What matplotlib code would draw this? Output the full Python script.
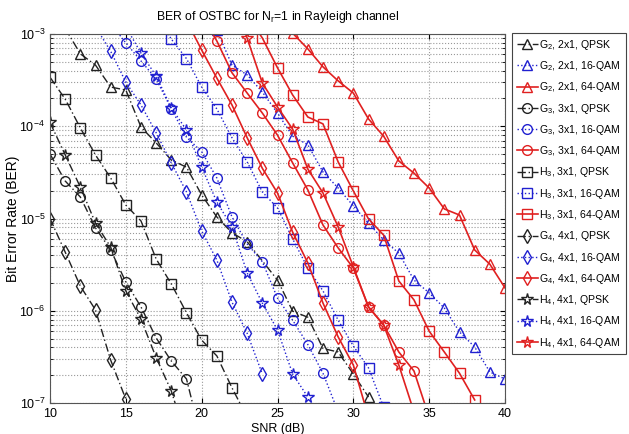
import numpy as np
import matplotlib
matplotlib.use("Agg")
import matplotlib.pyplot as plt

plt.rcParams['font.family'] = ['Liberation Sans', 'DejaVu Sans']
plt.rcParams['mathtext.fontset'] = 'custom'
plt.rcParams['mathtext.rm'] = 'Liberation Sans'
plt.rcParams['mathtext.it'] = 'Liberation Sans:italic'
plt.rcParams['mathtext.default'] = 'regular'

# ---------------- data ----------------
g2_qpsk_snr = [11, 12, 13, 14, 15, 16, 17, 18, 19, 20, 21, 22, 23, 25, 26, 27, 28, 29, 30, 31]
g2_qpsk_ber = [1.15e-3, 6.1e-4, 4.6e-4, 2.66e-4, 2.47e-4, 9.8e-5, 6.6e-5, 4.3e-5, 3.6e-5, 1.8e-5,
               1.04e-5, 7.0e-6, 5.6e-6, 2.15e-6, 9.9e-7, 8.5e-7, 3.9e-7, 3.57e-7, 2.06e-7, 1.16e-7]

g2_16_snr = [21, 22, 23, 24, 25, 26, 27, 28, 29, 30, 31, 32, 33, 34, 35, 36, 37, 38, 39, 40]
g2_16_ber = [1.1e-3, 4.6e-4, 3.6e-4, 2.35e-4, 1.39e-4, 7.8e-5, 6.3e-5, 3.19e-5, 2.14e-5, 1.37e-5,
             8.9e-6, 5.85e-6, 4.2e-6, 2.15e-6, 1.56e-6, 1.07e-6, 5.9e-7, 4.05e-7, 2.17e-7, 1.82e-7]

g2_64_snr = [26, 27, 28, 29, 30, 31, 32, 33, 34, 35, 36, 37, 38, 39, 40]
g2_64_ber = [1.02e-3, 6.9e-4, 4.4e-4, 3.1e-4, 2.29e-4, 1.2e-4, 7.8e-5, 4.2e-5, 3.1e-5, 2.14e-5,
             1.27e-5, 1.09e-5, 4.56e-6, 3.2e-6, 1.77e-6]

g3_qpsk_snr = [10, 11, 12, 13, 14, 15, 16, 17, 18, 19, 20]
g3_qpsk_ber = [5.0e-5, 2.55e-5, 1.71e-5, 7.9e-6, 4.56e-6, 2.05e-6, 1.1e-6, 5.07e-7, 2.85e-7, 1.82e-7, 4.0e-8]

g3_16_snr = [14, 15, 16, 17, 18, 19, 20, 21, 22, 23, 24, 25, 26, 27, 28, 29]
g3_16_ber = [1.3e-3, 8.0e-4, 5.1e-4, 3.25e-4, 1.54e-4, 7.6e-5, 5.3e-5, 2.75e-5, 1.04e-5, 5.3e-6,
             3.4e-6, 1.37e-6, 7.9e-7, 4.3e-7, 2.1e-7, 8.0e-8]

g3_64_snr = [20, 21, 22, 23, 24, 25, 26, 27, 28, 29, 30, 31, 32, 33, 34, 35]
g3_64_ber = [1.6e-3, 8.4e-4, 3.8e-4, 2.29e-4, 1.39e-4, 8.0e-5, 4.0e-5, 2.04e-5, 8.5e-6, 4.8e-6,
             2.9e-6, 1.1e-6, 7.0e-7, 3.57e-7, 2.22e-7, 7.0e-8]

h3_qpsk_snr = [10, 11, 12, 13, 14, 15, 16, 17, 18, 19, 20, 21, 22, 23]
h3_qpsk_ber = [3.4e-4, 1.97e-4, 9.6e-5, 4.88e-5, 2.75e-5, 1.4e-5, 9.4e-6, 3.64e-6, 1.95e-6, 9.5e-7,
               4.8e-7, 3.24e-7, 1.46e-7, 7.0e-8]

h3_16_snr = [17, 18, 19, 20, 21, 22, 23, 24, 25, 26, 27, 28, 29, 30, 31, 32]
h3_16_ber = [1.6e-3, 8.8e-4, 5.4e-4, 2.66e-4, 1.54e-4, 7.5e-5, 4.1e-5, 1.94e-5, 1.3e-5, 6.0e-6,
             2.9e-6, 1.64e-6, 7.9e-7, 4.15e-7, 2.4e-7, 9.0e-8]

h3_64_snr = [23, 24, 25, 26, 27, 28, 29, 30, 31, 32, 33, 34, 35, 36, 37, 38]
h3_64_ber = [1.6e-3, 9.05e-4, 4.3e-4, 2.18e-4, 1.26e-4, 1.06e-4, 4.1e-5, 1.99e-5, 9.9e-6, 6.6e-6,
             2.1e-6, 1.31e-6, 6.0e-7, 3.57e-7, 2.1e-7, 1.08e-7]

g4_qpsk_snr = [10, 11, 12, 13, 14, 15]
g4_qpsk_ber = [1.0e-5, 4.33e-6, 1.85e-6, 1.02e-6, 2.92e-7, 1.1e-7]

g4_16_snr = [13, 14, 15, 16, 17, 18, 19, 20, 21, 22, 23, 24]
g4_16_ber = [1.2e-3, 6.5e-4, 3.0e-4, 1.7e-4, 8.5e-5, 4.0e-5, 1.94e-5, 7.3e-6, 3.55e-6, 1.24e-6,
             5.7e-7, 2.06e-7]

g4_64_snr = [19, 20, 21, 22, 23, 24, 25, 26, 27, 28, 29, 30, 31]
g4_64_ber = [1.4e-3, 6.7e-4, 3.33e-4, 1.7e-4, 7.5e-5, 3.5e-5, 1.89e-5, 7.1e-6, 3.3e-6, 1.21e-6,
             5.2e-7, 2.58e-7, 7.0e-8]

h4_qpsk_snr = [10, 11, 12, 13, 14, 15, 16, 17, 18, 19]
h4_qpsk_ber = [1.1e-4, 4.9e-5, 2.19e-5, 8.9e-6, 4.9e-6, 1.64e-6, 8.1e-7, 3.1e-7, 1.35e-7, 4.0e-8]

h4_16_snr = [15, 16, 17, 18, 19, 20, 21, 22, 23, 24, 25, 26, 27]
h4_16_ber = [1.2e-3, 6.2e-4, 3.5e-4, 1.58e-4, 9.1e-5, 3.6e-5, 1.51e-5, 8.1e-6, 2.57e-6, 1.21e-6,
             6.2e-7, 2.06e-7, 1.16e-7]

h4_64_snr = [22, 23, 24, 25, 26, 27, 28, 29, 30, 31, 32, 33, 34]
h4_64_ber = [2.5e-3, 9.0e-4, 2.94e-4, 1.62e-4, 9.3e-5, 3.44e-5, 1.89e-5, 8.1e-6, 3.0e-6, 1.1e-6,
             7.0e-7, 2.58e-7, 8.0e-8]

labels = [r'G$_2$, 2x1, QPSK', r'G$_2$, 2x1, 16-QAM', r'G$_2$, 2x1, 64-QAM',
          r'G$_3$, 3x1, QPSK', r'G$_3$, 3x1, 16-QAM', r'G$_3$, 3x1, 64-QAM',
          r'H$_3$, 3x1, QPSK', r'H$_3$, 3x1, 16-QAM', r'H$_3$, 3x1, 64-QAM',
          r'G$_4$, 4x1, QPSK', r'G$_4$, 4x1, 16-QAM', r'G$_4$, 4x1, 64-QAM',
          r'H$_4$, 4x1, QPSK', r'H$_4$, 4x1, 16-QAM', r'H$_4$, 4x1, 64-QAM']

series = [(g2_qpsk_snr, g2_qpsk_ber), (g2_16_snr, g2_16_ber), (g2_64_snr, g2_64_ber),
          (g3_qpsk_snr, g3_qpsk_ber), (g3_16_snr, g3_16_ber), (g3_64_snr, g3_64_ber),
          (h3_qpsk_snr, h3_qpsk_ber), (h3_16_snr, h3_16_ber), (h3_64_snr, h3_64_ber),
          (g4_qpsk_snr, g4_qpsk_ber), (g4_16_snr, g4_16_ber), (g4_64_snr, g4_64_ber),
          (h4_qpsk_snr, h4_qpsk_ber), (h4_16_snr, h4_16_ber), (h4_64_snr, h4_64_ber)]

markers = ['^', '^', '^', 'o', 'o', 'o', 's', 's', 's', 'd', 'd', 'd', '*', '*', '*']
colors = ['#222222', '#2020d0', '#e02020'] * 5
styles = [(0, (6, 2, 1, 2)), ':', '-'] * 5
widths = [1.0, 1.0, 1.2] * 5

fig = plt.figure(figsize=(6.29, 4.34), dpi=100)
ax = fig.add_axes([50 / 629, 1 - 403 / 434, 455 / 629, 369 / 434])

for (x, y), lab, m, c, ls, lw in zip(series, labels, markers, colors, styles, widths):
    ms = 8.5 if m == '*' else 7
    ax.semilogy(x, y, linestyle=ls, color=c, lw=lw, marker=m, ms=ms,
                mfc='none', mec=c, mew=1.0, label=lab)

ax.set_xlim(10, 40)
ax.set_ylim(1e-7, 1e-3)
ax.set_xticks([10, 15, 20, 25, 30, 35, 40])
ax.grid(True, which='major', linestyle=':', color='#999999', lw=0.8)
ax.grid(True, which='minor', axis='y', linestyle=':', color='#999999', lw=0.8)
ax.tick_params(which='both', direction='in', top=True, right=True, labelsize=9)
for s in ax.spines.values():
    s.set_color('#555555')

ax.set_title(r'BER of OSTBC for N$_r$=1 in Rayleigh channel', fontsize=8.8, pad=10)
ax.set_xlabel('SNR (dB)', fontsize=9, labelpad=2)
ax.set_ylabel('Bit Error Rate (BER)', fontsize=10)
ax.yaxis.set_label_coords(-30 / 455, 0.5)

leg = ax.legend(loc='upper left', bbox_to_anchor=(512 / 629, 1 - 33 / 434),
                bbox_transform=fig.transFigure, borderaxespad=0, fontsize=7.6,
                labelspacing=0.69, handlelength=2.0, handletextpad=0.15,
                numpoints=1, fancybox=False, framealpha=1, edgecolor='#444444',
                borderpad=0.45)
leg.get_frame().set_linewidth(0.8)

fig.savefig('out.png', dpi=100)
